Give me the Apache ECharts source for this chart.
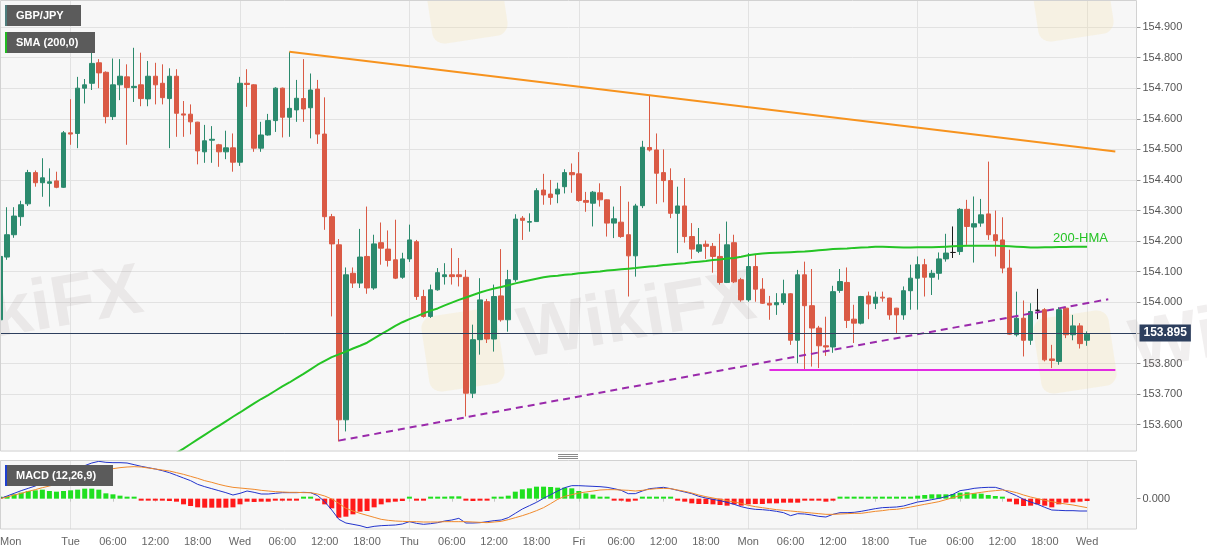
<!DOCTYPE html>
<html>
<head>
<meta charset="utf-8">
<script src="https://cdn.jsdelivr.net/npm/echarts@6/dist/echarts.min.js"></script>
<style>
html,body{margin:0;padding:0;background:#fff;}
#chart{width:1207px;height:555px;}
</style>
</head>
<body>
<div id="chart"></div>
<script>
// ---------- time axis ----------
const dayNames = ['Mon','Tue','Wed','Thu','Fri','Mon','Tue','Wed'];
const firstHour = 14;      // first candle: Mon 14:00 (hourly candles, weekend removed)
const candleCount = 155;   // last candle: Wed 00:00
const slotCount = 162;     // empty slots after the last candle

// ---------- GBP/JPY hourly candles ----------
const opens = [
153.943,154.148,154.221,154.280,154.322,154.424,154.391,154.389,154.397,154.376,
154.554,154.552,154.700,154.716,154.783,154.752,154.607,154.711,154.737,154.702,
154.711,154.665,154.739,154.716,154.666,154.739,154.616,154.615,154.589,154.492,
154.530,154.515,154.492,154.505,154.458,154.716,154.711,154.504,154.547,154.594,
154.700,154.605,154.629,154.666,154.636,154.697,154.550,154.280,154.188,153.616,
154.095,154.063,154.150,154.047,154.195,154.174,154.139,154.082,154.142,154.198,
154.019,153.954,154.041,154.084,154.090,154.090,154.082,153.703,153.878,154.002,
153.880,154.021,153.943,154.074,154.275,154.262,154.264,154.367,154.354,154.354,
154.378,154.424,154.420,154.333,154.324,154.358,154.335,154.259,154.262,154.221,
154.152,154.316,154.506,154.498,154.424,154.398,154.291,154.315,154.215,154.167,
154.190,154.183,154.150,154.065,154.195,154.074,154.008,154.117,154.043,153.997,
153.992,153.999,154.028,153.876,154.090,153.989,153.916,153.858,153.854,154.039,
154.065,153.945,153.932,154.021,153.997,154.017,154.014,153.981,153.959,154.038,
154.079,154.123,154.082,154.095,154.142,154.163,154.166,154.304,154.246,154.259,
154.289,154.221,154.204,154.112,153.894,153.948,153.876,153.974,153.976,153.815,
153.807,153.981,153.894,153.923,153.876];
const closes = [
154.150,154.221,154.282,154.319,154.424,154.391,154.407,154.394,154.376,154.554,
154.550,154.700,154.711,154.781,154.750,154.607,154.711,154.739,154.702,154.706,
154.666,154.739,154.711,154.669,154.739,154.618,154.612,154.590,154.495,154.528,
154.533,154.492,154.505,154.458,154.716,154.712,154.504,154.547,154.594,154.700,
154.605,154.634,154.667,154.632,154.694,154.550,154.280,154.191,153.616,154.090,
154.063,154.148,154.047,154.191,154.177,154.137,154.079,154.142,154.204,154.019,
153.954,154.041,154.097,154.090,154.084,154.084,153.703,153.878,154.008,153.880,
154.019,153.943,154.074,154.272,154.268,154.264,154.365,154.351,154.343,154.370,
154.424,154.417,154.333,154.327,154.360,154.335,154.259,154.273,154.215,154.152,
154.315,154.507,154.498,154.422,154.398,154.291,154.315,154.215,154.174,154.188,
154.183,154.150,154.065,154.188,154.067,154.008,154.117,154.043,153.997,153.991,
153.999,154.028,153.876,154.090,153.989,153.916,153.858,153.854,154.035,154.068,
153.941,153.932,154.019,153.995,154.017,154.014,153.959,153.959,154.038,154.079,
154.123,154.082,154.095,154.142,154.161,154.163,154.304,154.248,154.257,154.286,
154.221,154.202,154.112,153.896,153.948,153.876,153.970,153.974,153.812,153.810,
153.976,153.894,153.923,153.865,153.896];
const lows = [
153.927,154.139,154.211,154.250,154.315,154.378,154.345,154.313,154.373,154.374,
154.515,154.504,154.650,154.694,154.700,154.585,154.596,154.661,154.515,154.655,
154.641,154.641,154.647,154.647,154.504,154.541,154.541,154.549,154.451,154.456,
154.456,154.443,154.468,154.427,154.446,154.639,154.492,154.492,154.545,154.557,
154.539,154.541,154.590,154.590,154.536,154.518,154.237,153.954,153.545,153.578,
154.047,154.047,154.028,154.041,154.123,154.117,154.076,154.077,154.132,154.008,
153.950,153.949,154.038,154.058,154.058,154.052,153.627,153.687,153.829,153.867,
153.839,153.937,153.904,154.067,154.204,154.231,154.263,154.319,154.319,154.324,
154.356,154.358,154.329,154.296,154.248,154.313,154.215,154.210,154.211,154.019,
154.084,154.308,154.493,154.322,154.327,154.275,154.161,154.195,154.142,154.161,
154.142,154.097,154.058,154.063,154.063,154.002,154.002,154.002,153.995,153.943,
153.959,153.992,153.861,153.801,153.780,153.790,153.785,153.825,153.835,154.031,
153.916,153.867,153.928,153.945,153.978,154.002,153.943,153.900,153.943,153.976,
153.976,154.019,154.024,154.074,154.133,154.145,154.155,154.188,154.130,154.247,
154.204,154.150,154.095,153.894,153.888,153.823,153.861,153.945,153.807,153.785,
153.796,153.883,153.876,153.849,153.858];
const highs = [
154.172,154.311,154.311,154.332,154.433,154.431,154.471,154.438,154.427,154.560,
154.664,154.737,154.730,154.832,154.795,154.755,154.797,154.795,154.778,154.832,
154.816,154.789,154.783,154.778,154.765,154.762,154.658,154.647,154.590,154.580,
154.576,154.518,154.561,154.552,154.737,154.762,154.713,154.590,154.616,154.703,
154.702,154.819,154.727,154.795,154.748,154.727,154.670,154.289,154.207,154.114,
154.114,154.240,154.313,154.221,154.261,154.235,154.270,154.162,154.254,154.204,
154.041,154.058,154.112,154.128,154.177,154.145,154.106,153.927,154.079,154.011,
154.058,154.174,154.106,154.288,154.282,154.291,154.373,154.420,154.400,154.391,
154.435,154.454,154.491,154.361,154.364,154.389,154.336,154.313,154.380,154.329,
154.322,154.528,154.678,154.552,154.500,154.438,154.378,154.406,154.259,154.243,
154.202,154.194,154.224,154.264,154.221,154.080,154.161,154.155,154.079,154.021,
154.030,154.074,154.030,154.106,154.133,154.109,153.923,153.953,154.054,154.109,
154.114,153.992,154.021,154.035,154.035,154.035,154.015,153.982,154.052,154.123,
154.150,154.142,154.106,154.163,154.224,154.248,154.308,154.335,154.346,154.338,
154.460,154.300,154.278,154.172,154.035,154.006,153.997,154.044,153.981,153.861,
153.984,153.986,153.959,153.932,153.905];

// ---------- 200-HMA (starts below the visible pane) ----------
const hmaStart = 25;
const hma200Values = [
153.508,153.522,153.537,153.552,153.567,153.582,153.596,153.611,153.626,153.640,
153.655,153.670,153.684,153.697,153.711,153.725,153.738,153.752,153.766,153.781,
153.796,153.809,153.821,153.830,153.839,153.849,153.858,153.868,153.882,153.896,
153.909,153.923,153.935,153.945,153.954,153.964,153.973,153.980,153.990,153.999,
154.008,154.016,154.024,154.032,154.039,154.045,154.050,154.056,154.062,154.067,
154.072,154.077,154.082,154.085,154.087,154.090,154.092,154.095,154.097,154.099,
154.101,154.104,154.106,154.108,154.110,154.112,154.115,154.117,154.119,154.122,
154.124,154.126,154.128,154.131,154.133,154.135,154.138,154.140,154.143,154.145,
154.149,154.154,154.157,154.160,154.161,154.162,154.163,154.164,154.165,154.166,
154.168,154.170,154.172,154.174,154.175,154.176,154.178,154.179,154.180,154.182,
154.182,154.181,154.180,154.179,154.179,154.180,154.180,154.180,154.181,154.182,
154.183,154.184,154.185,154.185,154.185,154.185,154.185,154.184,154.183,154.182,
154.181,154.179,154.179,154.180,154.180,154.181,154.181,154.182,154.182,154.182];

// ---------- drawn trend lines (candle index, price) ----------
const resistanceIdx = [41, 158];
const resistanceVal = [154.819, 154.493];
const supportIdx = [48, 157];
const supportVal = [153.548, 154.010];
const floorIdx = [109, 158];
const floorVal = [153.779, 153.779];
const lastPrice = 153.895;

// ---------- MACD (12,26,9) ----------
const macdLine = [
0,0.008,0.016,0.024,0.031,0.038,0.049,0.056,0.063,0.071,
0.081,0.090,0.099,0.107,0.112,0.109,0.108,0.108,0.107,0.102,
0.097,0.093,0.089,0.084,0.078,0.070,0.062,0.054,0.043,0.036,
0.030,0.024,0.018,0.011,0.016,0.023,0.019,0.014,0.014,0.016,
0.018,0.018,0.018,0.019,0.018,0.009,-0.009,-0.034,-0.062,-0.073,
-0.077,-0.081,-0.087,-0.083,-0.081,-0.080,-0.079,-0.076,-0.069,-0.074,
-0.077,-0.075,-0.072,-0.067,-0.064,-0.059,-0.073,-0.073,-0.072,-0.069,
-0.066,-0.064,-0.057,-0.044,-0.031,-0.021,-0.011,0.001,0.012,0.023,
0.033,0.039,0.039,0.038,0.037,0.036,0.034,0.030,0.025,0.015,
0.015,0.023,0.030,0.032,0.034,0.030,0.025,0.020,0.015,0.007,
0.002,-0.002,-0.006,-0.011,-0.017,-0.024,-0.029,-0.032,-0.033,-0.035,
-0.038,-0.042,-0.051,-0.045,-0.046,-0.049,-0.053,-0.055,-0.047,-0.042,
-0.042,-0.041,-0.038,-0.034,-0.030,-0.027,-0.026,-0.025,-0.022,-0.016,
-0.010,-0.007,-0.003,0.001,0.006,0.013,0.024,0.027,0.031,0.033,
0.034,0.034,0.028,0.018,0.009,-0.002,-0.010,-0.017,-0.026,-0.034,
-0.035,-0.036,-0.036,-0.037,-0.037];
const signalLine = [
0,0.005,0.011,0.016,0.022,0.027,0.033,0.038,0.044,0.049,
0.055,0.061,0.068,0.074,0.080,0.085,0.090,0.093,0.095,0.096,
0.095,0.092,0.089,0.086,0.083,0.078,0.073,0.067,0.061,0.054,
0.049,0.043,0.038,0.034,0.032,0.030,0.028,0.025,0.023,0.021,
0.020,0.019,0.019,0.018,0.018,0.014,0.008,-0.001,-0.014,-0.029,
-0.037,-0.044,-0.050,-0.056,-0.062,-0.065,-0.067,-0.068,-0.069,-0.069,
-0.070,-0.070,-0.070,-0.069,-0.069,-0.069,-0.069,-0.070,-0.071,-0.072,
-0.070,-0.068,-0.063,-0.057,-0.051,-0.044,-0.036,-0.027,-0.015,-0.002,
0.007,0.012,0.017,0.020,0.023,0.026,0.027,0.027,0.026,0.025,
0.023,0.025,0.028,0.030,0.031,0.030,0.026,0.022,0.017,0.011,
0.006,0.002,-0.002,-0.006,-0.010,-0.014,-0.020,-0.024,-0.027,-0.030,
-0.033,-0.035,-0.037,-0.039,-0.041,-0.043,-0.045,-0.047,-0.047,-0.046,
-0.045,-0.044,-0.044,-0.041,-0.038,-0.036,-0.033,-0.032,-0.029,-0.025,
-0.021,-0.017,-0.013,-0.009,-0.003,0.003,0.009,0.013,0.016,0.019,
0.022,0.024,0.026,0.023,0.018,0.011,0.005,0.000,-0.005,-0.009,
-0.013,-0.016,-0.019,-0.023,-0.027];
const macdHist = [
0.002,0.007,0.013,0.018,0.023,0.025,0.027,0.023,0.021,0.023,
0.025,0.027,0.030,0.030,0.027,0.016,0.013,0.009,0.005,0.002,
-0.002,-0.002,-0.002,-0.005,-0.007,-0.009,-0.017,-0.022,-0.026,-0.027,
-0.027,-0.027,-0.027,-0.026,-0.017,-0.009,-0.010,-0.009,-0.009,-0.006,
-0.003,-0.003,-0.002,0.001,0.001,-0.006,-0.017,-0.029,-0.057,-0.054,
-0.047,-0.039,-0.037,-0.026,-0.017,-0.011,-0.009,-0.007,0.001,-0.002,
-0.002,0.001,0.002,0.006,0.007,0.007,-0.005,-0.007,-0.002,-0.002,
0.002,0.002,0.009,0.021,0.028,0.031,0.036,0.036,0.035,0.033,
0.033,0.031,0.023,0.016,0.012,0.004,0.002,-0.002,-0.006,-0.009,
-0.006,0.004,0.004,0.004,0.003,0.002,-0.002,-0.009,-0.014,-0.016,
-0.016,-0.017,-0.019,-0.021,-0.017,-0.021,-0.017,-0.016,-0.016,-0.014,
-0.014,-0.012,-0.012,-0.012,-0.003,-0.003,-0.003,-0.009,-0.003,0.002,
0.002,0.002,0.002,0.003,0.003,0.003,0.003,0.003,0.004,0.006,
0.009,0.011,0.013,0.013,0.013,0.014,0.018,0.019,0.016,0.015,
0.011,0.008,0.003,-0.009,-0.017,-0.022,-0.021,-0.017,-0.021,-0.026,
-0.017,-0.012,-0.011,-0.009,-0.007];

// ---------- build ----------
const pad2 = n => (n < 10 ? '0' : '') + n;
const categories = [];
for (let i = 0; i < slotCount; i++) {
  const t = i + firstHour;
  categories.push(dayNames[Math.floor(t / 24)] + ' ' + pad2(t % 24) + ':00');
}
const hourOf = i => (i + firstHour) % 24;
const dayOf = i => dayNames[Math.floor((i + firstHour) / 24)];
const labelShown = i => i === 0 || (i >= 6 && i < candleCount && hourOf(i) % 6 === 0);
const dayStart = i => i < candleCount && hourOf(i) === 0;
const fmtLabel = (v, i) => {
  if (i === 0 || hourOf(i) === 0) return dayOf(i);
  return pad2(hourOf(i)) + ':00';
};

const candleData = opens.map((o, i) => [o, closes[i], lows[i], highs[i]]);
const hma200 = [];
for (let i = 0; i < candleCount; i++) hma200.push(i < hmaStart ? null : hma200Values[i - hmaStart]);
const pairs = (xs, ys) => xs.map((x, i) => [x, ys[i]]);

const UP = '#2b8a6d', DOWN = '#da5a45';
const FONT = '"Liberation Sans", Arial, sans-serif';

function legendBox(x, y, w, stripe, text) {
  return [
    { type: 'rect', shape: { x: x, y: y, width: w, height: 21 }, style: { fill: '#5b5b5b' }, z: 70 },
    { type: 'rect', shape: { x: x, y: y, width: 2, height: 21 }, style: { fill: stripe }, z: 71 },
    { type: 'text', x: x + 11, y: y + 10.5, style: { text: text, fill: '#ffffff', font: 'bold 11px ' + FONT, verticalAlign: 'middle', textVerticalAlign: 'middle' }, z: 71 }
  ];
}
function watermark(cx, cy) {
  return { type: 'text', x: cx, y: cy, rotation: 0.17, silent: true,
    style: { text: 'WikiFX', fill: 'rgba(150,135,135,0.13)', font: 'bold 72px ' + FONT, align: 'center', verticalAlign: 'middle', textAlign: 'center', textVerticalAlign: 'middle' }, z: 1 };
}
function logo(cx, cy) {
  return { type: 'rect', x: cx, y: cy, rotation: 0.15, silent: true,
    shape: { x: -38, y: -38, width: 76, height: 76, r: 12 }, style: { fill: 'rgba(245,222,160,0.22)' }, z: 1 };
}

const graphics = [].concat(
  [watermark(24, 312), watermark(637, 318), watermark(1249, 330),
   logo(463, 350), logo(1075, 352), logo(466, 2), logo(1072, 0)],
  [
    { type: 'rect', shape: { x: 0, y: 451.5, width: 1207, height: 8 }, style: { fill: '#ffffff' }, z: 50 },
    { type: 'rect', shape: { x: 0.5, y: 0.5, width: 1136, height: 450.5 }, style: { fill: 'none', stroke: '#d2d2d2', lineWidth: 1 }, z: 60 },
    { type: 'rect', shape: { x: 0.5, y: 460.5, width: 1136, height: 68.5 }, style: { fill: 'none', stroke: '#d2d2d2', lineWidth: 1 }, z: 60 },
    { type: 'line', shape: { x1: 558, y1: 454.5, x2: 578, y2: 454.5 }, style: { stroke: '#8a8a8a', lineWidth: 1 }, z: 61 },
    { type: 'line', shape: { x1: 558, y1: 456.5, x2: 578, y2: 456.5 }, style: { stroke: '#8a8a8a', lineWidth: 1 }, z: 61 },
    { type: 'line', shape: { x1: 558, y1: 458.5, x2: 578, y2: 458.5 }, style: { stroke: '#8a8a8a', lineWidth: 1 }, z: 61 },
    { type: 'text', x: 1053, y: 238, style: { text: '200-HMA', fill: '#25c425', font: '13px ' + FONT, verticalAlign: 'middle', textVerticalAlign: 'middle' }, z: 62 }
  ],
  legendBox(5, 5, 76, '#4e7d7d', 'GBP/JPY'),
  legendBox(5, 32, 90, '#22bb22', 'SMA (200,0)'),
  legendBox(5, 465, 108, '#1e3fd0', 'MACD (12,26,9)')
);

const chart = echarts.init(document.getElementById('chart'), null, { renderer: 'canvas' });
chart.setOption({
  animation: false,
  backgroundColor: '#ffffff',
  textStyle: { fontFamily: FONT },
  grid: [
    { left: 0, right: 70.5, top: -3.6, height: 458.9, show: true, backgroundColor: '#f7f7f7', borderWidth: 0, containLabel: false, outerBoundsMode: 'none' },
    { left: 0, right: 70.5, top: 460, height: 69, show: true, backgroundColor: '#f7f7f7', borderWidth: 0, containLabel: false, outerBoundsMode: 'none' }
  ],
  xAxis: [
    { type: 'category', gridIndex: 0, data: categories, boundaryGap: false,
      axisLine: { show: false }, axisTick: { show: false }, axisLabel: { show: false },
      splitLine: { show: true, interval: i => dayStart(i), lineStyle: { color: '#e2e2e2', width: 1 } } },
    { type: 'category', gridIndex: 1, data: categories, boundaryGap: false,
      axisLine: { show: false },
      axisTick: { show: true, interval: i => labelShown(i), length: 3, lineStyle: { color: '#c4c4c4' } },
      axisLabel: { show: true, interval: i => labelShown(i), formatter: fmtLabel, color: '#666666', fontSize: 11, margin: 7, alignMinLabel: 'left', hideOverlap: false },
      splitLine: { show: true, interval: i => dayStart(i), lineStyle: { color: '#e2e2e2', width: 1 } } }
  ],
  yAxis: [
    { type: 'value', gridIndex: 0, position: 'right', min: 153.5, max: 155.0, interval: 0.1,
      axisLine: { show: false },
      axisTick: { show: true, length: 4, lineStyle: { color: '#9a9a9a' } },
      axisLabel: { color: '#555555', fontSize: 11, margin: 6, formatter: v => (v < 153.55 || v > 154.95) ? '' : v.toFixed(3) },
      splitLine: { show: true, lineStyle: { color: '#e2e2e2', width: 1 } } },
    { type: 'value', gridIndex: 1, position: 'right', min: -0.091, max: 0.116, interval: 0.091,
      axisLine: { show: false },
      axisTick: { show: true, length: 4, customValues: [0], lineStyle: { color: '#9a9a9a' } },
      axisLabel: { color: '#555555', fontSize: 11, margin: 6, customValues: [0], formatter: v => Math.abs(v) < 1e-9 ? '0.000' : '' },
      splitLine: { show: false } }
  ],
  graphic: { elements: graphics },
  series: [
    { name: 'GBP/JPY', type: 'candlestick', xAxisIndex: 0, yAxisIndex: 0, data: candleData, barWidth: 5,
      itemStyle: { color: UP, color0: DOWN, borderColor: UP, borderColor0: DOWN, borderColorDoji: '#1a1a1a', borderWidth: 1 },
      markLine: { silent: true, symbol: ['none', 'none'], animation: false,
        data: [{ yAxis: lastPrice }],
        lineStyle: { color: '#2d3f5e', width: 1, type: 'solid' },
        label: { show: true, position: 'end', formatter: lastPrice.toFixed(3), color: '#ffffff', backgroundColor: '#2d3f5e',
          fontWeight: 'bold', fontSize: 12, padding: [3, 4, 2, 4], distance: 3 } } },
    { name: '200-HMA', type: 'line', xAxisIndex: 0, yAxisIndex: 0, data: hma200, symbol: 'none', connectNulls: false,
      lineStyle: { color: '#25c425', width: 2 }, z: 3 },
    { name: 'resistance', type: 'line', xAxisIndex: 0, yAxisIndex: 0, data: pairs(resistanceIdx, resistanceVal), symbol: 'none',
      lineStyle: { color: '#f7931e', width: 2 }, z: 4 },
    { name: 'support', type: 'line', xAxisIndex: 0, yAxisIndex: 0, data: pairs(supportIdx, supportVal), symbol: 'none',
      lineStyle: { color: '#9a2aab', width: 2, type: [7, 5] }, z: 4 },
    { name: 'floor', type: 'line', xAxisIndex: 0, yAxisIndex: 0, data: pairs(floorIdx, floorVal), symbol: 'none',
      lineStyle: { color: '#e22be2', width: 2 }, z: 4 },
    { name: 'hist', type: 'bar', xAxisIndex: 1, yAxisIndex: 1, barWidth: 5, barMinHeight: 2,
      data: macdHist.map(v => ({ value: v, itemStyle: { color: v >= 0 ? '#1fe01f' : '#ff1a1a' } })) },
    { name: 'MACD', type: 'line', xAxisIndex: 1, yAxisIndex: 1, data: macdLine, symbol: 'none',
      lineStyle: { color: '#2233cc', width: 1 }, z: 4 },
    { name: 'signal', type: 'line', xAxisIndex: 1, yAxisIndex: 1, data: signalLine, symbol: 'none',
      lineStyle: { color: '#f08a2c', width: 1 }, z: 4 }
  ]
});
</script>
</body>
</html>
